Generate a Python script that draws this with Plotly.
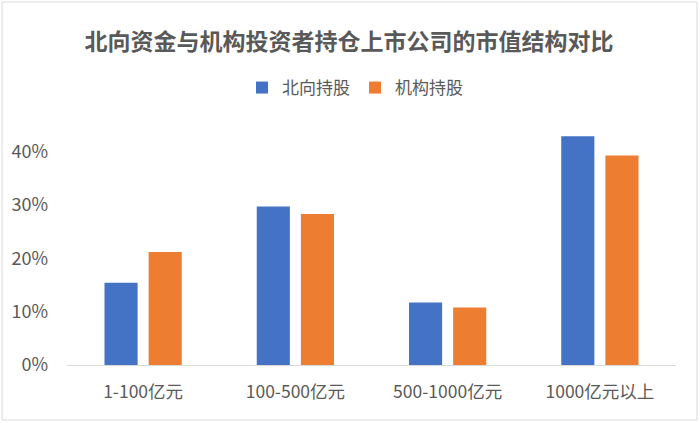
import plotly.graph_objects as go

categories = ["1-100亿元", "100-500亿元", "500-1000亿元", "1000亿元以上"]
north_bound = [0.154, 0.297, 0.117, 0.429]
institutions = [0.212, 0.283, 0.108, 0.393]
series_names = ["北向持股", "机构持股"]
y_ticks = [0, 0.1, 0.2, 0.3, 0.4]
y_tick_labels = ["0%", "10%", "20%", "30%", "40%"]

FONT = "Noto Sans CJK SC"
GRAY = "#595959"

fig = go.Figure()
fig.add_trace(go.Bar(x=categories, y=north_bound, name=series_names[0],
                     marker=dict(color="#4472C4", line=dict(width=0))))
fig.add_trace(go.Bar(x=categories, y=institutions, name=series_names[1],
                     marker=dict(color="#ED7D31", line=dict(width=0))))

L, R, T, B = 67, 24, 125, 58
W, H = 700, 423
pw, ph = W - L - R, H - T - B

def px_x(x):
    return (x - L) / pw

def px_y(y):
    return (H - B - y) / ph

fig.update_layout(
    width=W, height=H,
    margin=dict(l=L, r=R, t=T, b=B),
    paper_bgcolor="white", plot_bgcolor="white",
    barmode="group", bargap=0.42, bargroupgap=0.25,
    font=dict(family=FONT, color=GRAY, size=17),
    title=dict(text="<b>北向资金与机构投资者持仓上市公司的市值结构对比</b>",
               x=349 / W, xanchor="center", y=1 - 42 / H, yanchor="middle",
               font=dict(family=FONT, size=23, color=GRAY)),
    legend=dict(orientation="h", x=px_x(355), xanchor="center",
                y=px_y(88), yanchor="middle",
                font=dict(family=FONT, size=17, color=GRAY),
                itemwidth=30, bgcolor="rgba(0,0,0,0)"),
    xaxis=dict(showline=True, linecolor="#D9D9D9", linewidth=1,
               ticks="", tickfont=dict(size=17.5, color=GRAY),
               showgrid=False, ticklabelstandoff=11),
    yaxis=dict(range=[0, 0.45], tickvals=y_ticks, ticktext=y_tick_labels,
               showgrid=False, zeroline=False, showline=False,
               tickfont=dict(size=18, color=GRAY), ticklabelstandoff=18),
    shapes=[dict(type="rect", xref="paper", yref="paper",
                 x0=px_x(2), x1=px_x(697), y0=px_y(420), y1=px_y(2),
                 line=dict(color="#D9D9D9", width=1), fillcolor="rgba(0,0,0,0)",
                 layer="below")],
)

fig.write_html("out.html")
